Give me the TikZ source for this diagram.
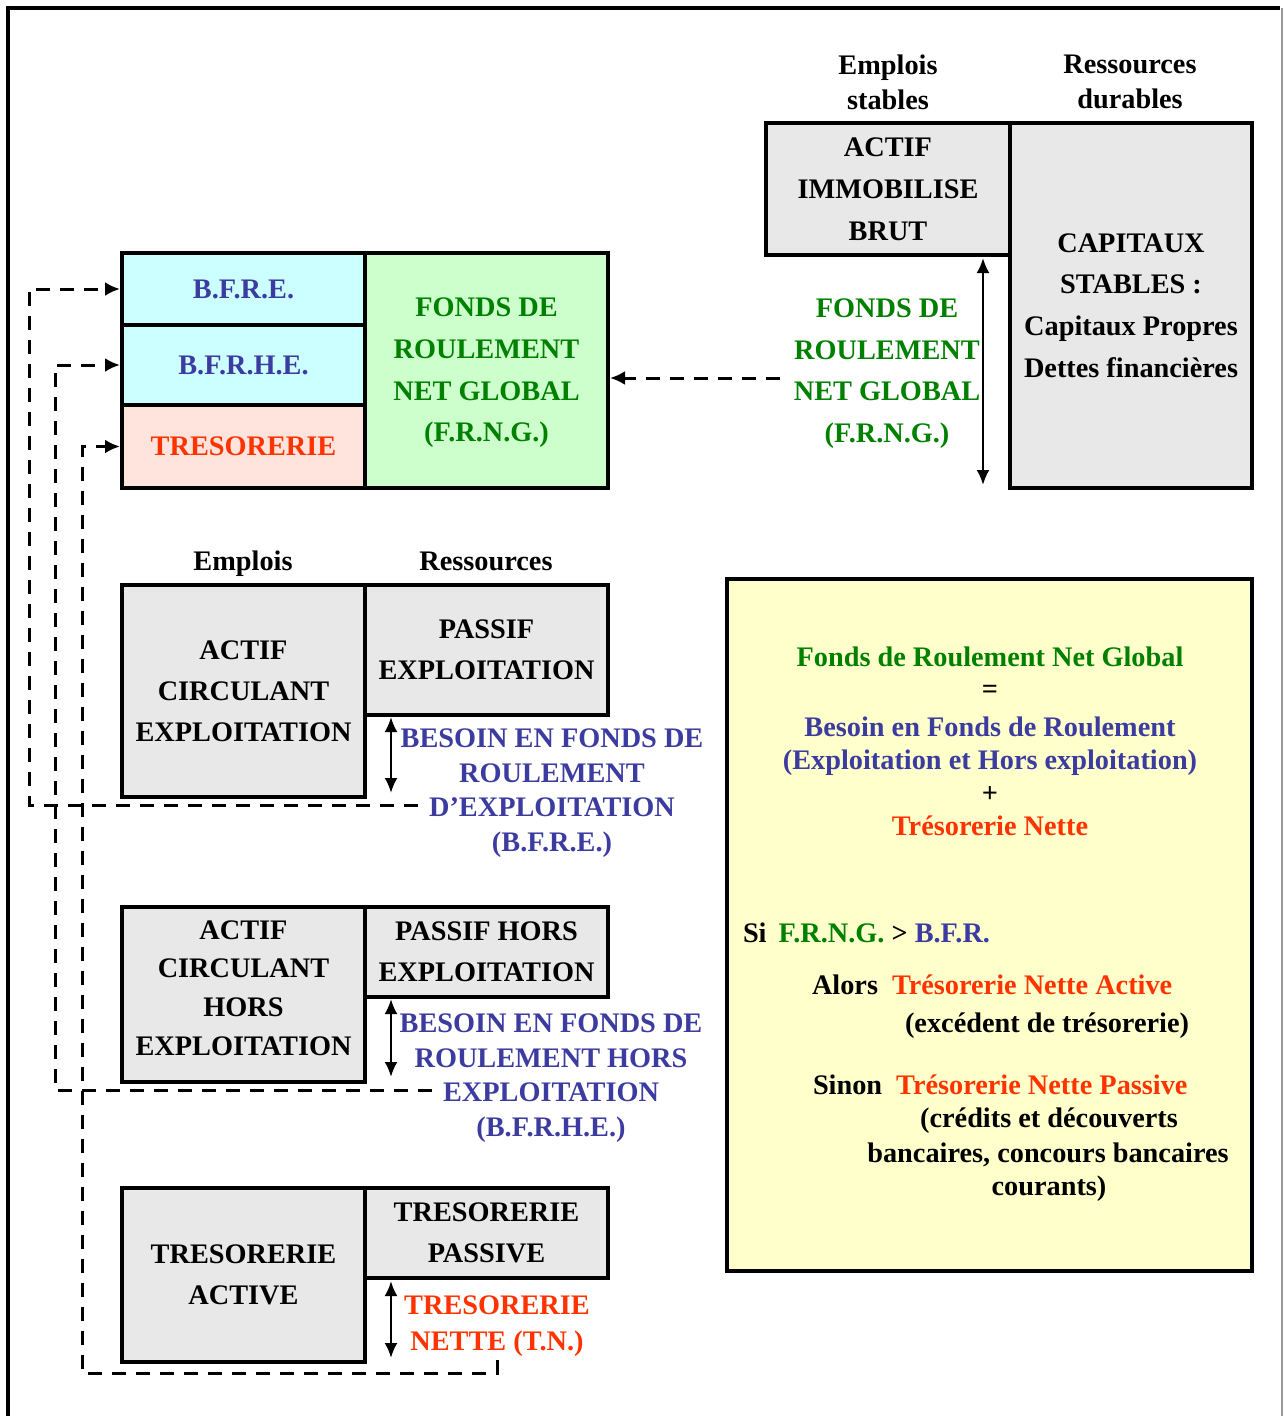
\documentclass[tikz,border=0pt]{standalone}
\usepackage{fontspec}
\setmainfont{Liberation Serif}
\usetikzlibrary{arrows.meta,calc}
\definecolor{cblue}{RGB}{60,60,160}
\definecolor{cgreen}{RGB}{0,128,0}
\definecolor{cred}{RGB}{255,51,0}
\definecolor{fcyan}{RGB}{204,255,255}
\definecolor{fpink}{RGB}{255,228,222}
\definecolor{fgreen}{RGB}{204,255,204}
\definecolor{fgray}{RGB}{232,232,232}
\definecolor{fyellow}{RGB}{255,255,204}
\begin{document}
\begin{tikzpicture}[x=1pt,y=-1pt,
  every node/.style={font=\fontsize{28.3}{41}\selectfont\bfseries, inner sep=0pt, outer sep=0pt},
  box/.style={draw, line width=4pt, align=center, fill=fgray, outer sep=2pt},
  dbl/.style={{Latex[length=15pt,width=13pt]}-{Latex[length=15pt,width=13pt]}, line width=2.5pt},
  dashlink/.style={dash pattern=on 14pt off 10pt, line width=3pt, -{Latex[length=15pt,width=14pt]}},
  lab/.style={align=center},
  tight/.style={font=\fontsize{28.3}{35}\selectfont\bfseries}]
\useasboundingbox (0,0) rectangle (1284,1416);
% outer frame
\draw[line width=4pt] (8,1416) -- (8,8) -- (1280,8);
\draw[black!40, line width=1.5pt] (1282,8) -- (1282,1416);

% yellow summary box
\node[draw, line width=4pt, fill=fyellow, minimum width=525pt, minimum height=692pt] (sum) at (989.5,925) {};

% top-left group
\node[box, fill=fcyan, minimum width=243pt, minimum height=72pt, text=cblue] (bfre) at (243.5,289) {B.F.R.E.};
\node[box, fill=fcyan, minimum width=243pt, minimum height=80pt, text=cblue] (bfrhe) at (243.5,365) {B.F.R.H.E.};
\node[box, fill=fpink, minimum width=243pt, minimum height=83pt, text=cred] (treso) at (243.5,446.5) {TRESORERIE};
\node[box, fill=fgreen, minimum width=243pt, minimum height=235pt] (frng) at (486.5,370.5) {};
\node[lab, text=cgreen, font=\fontsize{28.3}{41.7}\selectfont\bfseries] (frngin) at (486.5,373) {FONDS DE\\ROULEMENT\\NET GLOBAL\\(F.R.N.G.)};

% top-right balance
\node[lab, tight] (emps) at (888,82) {Emplois\\stables};
\node[lab, tight] (resd) at (1130,82) {Ressources\\durables};
\node[box, minimum width=244pt, minimum height=132pt, font=\fontsize{28.3}{42}\selectfont\bfseries] (aib) at (888,189) {ACTIF\\IMMOBILISE\\BRUT};
\node[box, minimum width=242pt, minimum height=365pt, font=\fontsize{28.3}{41.7}\selectfont\bfseries] (cap) at (1131,305.5) {CAPITAUX\\STABLES :\\Capitaux Propres\\Dettes financières};
\node[lab, text=cgreen, font=\fontsize{28.3}{41.7}\selectfont\bfseries] (frngtxt) at (887,373.5) {FONDS DE\\ROULEMENT\\NET GLOBAL\\(F.R.N.G.)};
\coordinate (a1t) at (983,258);
\coordinate (a1b) at (983,485);
\draw[dbl] (a1t) -- (a1b);
\coordinate (e4) at (780,378);
\draw[dashlink] (e4) -- (frng.east |- e4);

% exploitation
\node[anchor=base] (emp) at (243,570) {Emplois};
\node[anchor=base] (res) at (486,570) {Ressources};
\node[box, minimum width=243pt, minimum height=212pt] (ace) at (243.5,691) {ACTIF\\CIRCULANT\\EXPLOITATION};
\node[box, minimum width=243pt, minimum height=130pt] (pe) at (486.5,650) {PASSIF\\EXPLOITATION};
\coordinate (a2t) at (391,717);
\coordinate (a2b) at (391,793);
\draw[dbl] (a2t) -- (a2b);
\node[lab, text=cblue, font=\fontsize{28.3}{34.7}\selectfont\bfseries] (bfretxt) at (552,793) {BESOIN EN FONDS DE\\ROULEMENT\\D’EXPLOITATION\\(B.F.R.E.)};

% hors exploitation
\node[box, minimum width=243pt, minimum height=175pt] (ache) at (243.5,994.5) {};
\node[lab, font=\fontsize{28.3}{38.7}\selectfont\bfseries] (achetxt) at (243.5,988) {ACTIF\\CIRCULANT\\HORS\\EXPLOITATION};
\node[box, minimum width=243pt, minimum height=90pt] (phe) at (486.5,952) {PASSIF HORS\\EXPLOITATION};
\coordinate (a3t) at (391,999);
\coordinate (a3b) at (391,1077);
\draw[dbl] (a3t) -- (a3b);
\node[lab, text=cblue, font=\fontsize{28.3}{34.7}\selectfont\bfseries] (bfrhetxt) at (551,1078) {BESOIN EN FONDS DE\\ROULEMENT HORS\\EXPLOITATION\\(B.F.R.H.E.)};

% tresorerie
\node[box, minimum width=243pt, minimum height=174pt] (ta) at (243.5,1275) {TRESORERIE\\ACTIVE};
\node[box, minimum width=243pt, minimum height=90pt] (tp) at (486.5,1233) {TRESORERIE\\PASSIVE};
\coordinate (a4t) at (391,1281);
\coordinate (a4b) at (391,1358);
\draw[dbl] (a4t) -- (a4b);
\node[lab, text=cred, font=\fontsize{28.3}{36}\selectfont\bfseries] (tntxt) at (497,1326) {TRESORERIE\\NETTE (T.N.)};

% dashed links
\coordinate (e1) at (418,805);
\draw[dashlink] (e1) -- (29,805) |- (bfre.west);
\coordinate (e2) at (432,1090);
\draw[dashlink] (e2) -- (55,1090) |- (bfrhe.west);
\coordinate (e3) at (497,1360);
\draw[dashlink] (e3) -- (497,1373) -- (82,1373) |- (treso.west);

% summary text
\node[anchor=base, text=cgreen] (l1) at (990,666) {Fonds de Roulement Net Global};
\node (l2) at (990,692) {=};
\node[anchor=base, text=cblue] (l3) at (990,736) {Besoin en Fonds de Roulement};
\node[anchor=base, text=cblue] (l4) at (990,769) {(Exploitation et Hors exploitation)};
\node (l5) at (990,794) {+};
\node[anchor=base, text=cred] (l6) at (990,835) {Trésorerie Nette};
\node[anchor=base west] (s1) at (743,942) {Si\hspace{12pt}\textcolor{cgreen}{F.R.N.G.} > \textcolor{cblue}{B.F.R.}};
\node[anchor=base west] (s2) at (812,994) {Alors\hspace{14pt}\textcolor{cred}{Trésorerie Nette Active}};
\node[anchor=base] (s3) at (1047,1032) {(excédent de trésorerie)};
\node[anchor=base west] (s4) at (813,1094) {Sinon\hspace{14pt}\textcolor{cred}{Trésorerie Nette Passive}};
\node[anchor=base] (s5) at (1049,1127) {(crédits et découverts};
\node[anchor=base] (s6) at (1048,1162) {bancaires, concours bancaires};
\node[anchor=base] (s7) at (1049,1195) {courants)};
\end{tikzpicture}
\end{document}
